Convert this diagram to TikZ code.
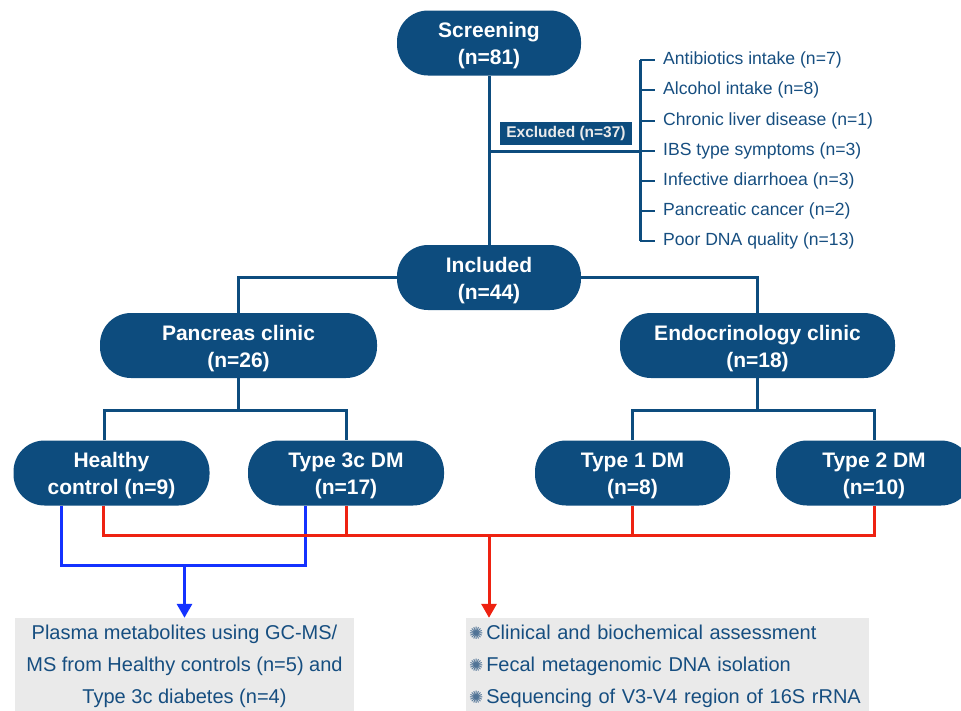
\documentclass[tikz,border=0pt]{standalone}
\usepackage{fontspec}
\setmainfont{Liberation Sans}
\newfontfamily\symfont{DejaVu Sans}
\usetikzlibrary{arrows.meta,calc}
\definecolor{navy}{RGB}{13,76,126}
\definecolor{navytext}{RGB}{22,78,128}
\definecolor{redln}{RGB}{238,34,17}
\definecolor{blueln}{RGB}{20,50,255}
\definecolor{boxgray}{RGB}{234,234,234}
\definecolor{bulcol}{RGB}{80,115,150}
\newcommand{\bul}{{\symfont\fontsize{17}{17}\selectfont\color{bulcol}✺}\hspace{3pt}}
\newcommand{\twol}[2]{\raisebox{-3pt}[\height][\depth]{\begin{tabular}{@{}c@{}}#1\\#2\end{tabular}}}
\begin{document}
\begin{tikzpicture}[x=1pt,y=-1pt,
  pill/.style={rectangle, rounded corners=31pt, fill=navy, text=white,
    font=\bfseries\fontsize{21}{27}\selectfont, align=center,
    minimum height=65pt, inner sep=0pt},
  navyline/.style={draw=navy, line width=3pt},
  redline/.style={draw=redln, line width=3pt},
  blueline/.style={draw=blueln, line width=3pt},
  listitem/.style={anchor=west, text=navytext, font=\fontsize{17.6}{17.6}\selectfont, inner sep=0pt},
  graybox/.style={fill=boxgray, text=navytext, font=\fontsize{20}{32}\selectfont, inner sep=0pt}
]
\useasboundingbox (0,0) rectangle (961,710);

% main nodes
\node[pill, minimum width=184pt] (scr) at (489,43) {\twol{Screening}{(n=81)}};
\node[pill, minimum width=184pt] (inc) at (489,277.5) {\twol{Included}{(n=44)}};
\node[pill, minimum width=277pt] (pan) at (238.5,345.5) {\twol{Pancreas clinic}{(n=26)}};
\node[pill, minimum width=275pt] (endo) at (757.5,345.5) {\twol{Endocrinology clinic}{(n=18)}};
\node[pill, minimum width=196pt] (hc) at (111.5,473) {\twol{Healthy}{control (n=9)}};
\node[pill, minimum width=196pt] (t3) at (346,473) {\twol{Type 3c DM}{(n=17)}};
\node[pill, minimum width=195pt] (t1) at (632.5,473) {\twol{Type 1 DM}{(n=8)}};
\node[pill, minimum width=196pt] (t2) at (874,473) {\twol{Type 2 DM}{(n=10)}};

% Excluded
\node[fill=navy, text=boxgray, font=\bfseries\fontsize{15.5}{15.5}\selectfont,
      minimum width=132pt, minimum height=23pt, inner sep=0pt] (exc) at (566,133.5) {Excluded (n=37)};

% exclusion list
\node[listitem] (e1) at (663,60) {Antibiotics intake (n=7)};
\node[listitem] (e2) at (663,90) {Alcohol intake (n=8)};
\node[listitem] (e3) at (663,120.5) {Chronic liver disease (n=1)};
\node[listitem] (e4) at (663,151) {IBS type symptoms (n=3)};
\node[listitem] (e5) at (663,181) {Infective diarrhoea (n=3)};
\node[listitem] (e6) at (663,210.5) {Pancreatic cancer (n=2)};
\node[listitem] (e7) at (663,241) {Poor DNA quality (n=13)};

\coordinate (exj) at (489,151);
\coordinate (brk) at (640,151);

% bottom boxes (extend below the page edge)
\node[graybox, minimum width=339pt, minimum height=96pt, align=center] (pbox) at (184.5,666)
  {Plasma metabolites using GC-MS/\\MS from Healthy controls (n=5) and\\Type 3c diabetes (n=4)};
\node[graybox, minimum width=403pt, minimum height=96pt, text width=397pt, align=left] (rbox) at (667.5,666)
  {\bul Clinical and biochemical assessment\\\bul Fecal metagenomic DNA isolation\\\bul Sequencing of V3-V4 region of 16S rRNA};

% navy connectors
\draw[navyline] (scr.south) -- (inc.north);
\draw[navyline] (exj) -- (brk);
\draw[navyline] (e1.west -| brk) -- (e7.west -| brk);
\foreach \e in {e1,e2,e3,e4,e5,e6,e7}
  \draw[navyline, line width=2pt, shorten >=8pt] (\e.west -| brk) -- (\e.west);
\draw[navyline] (inc.west) -| (pan.north);
\draw[navyline] (inc.east) -| (endo.north);
\draw[navyline] (pan.south) -- ++(0,33);
\draw[navyline] ([xshift=-7.5pt]hc.north) -- ++(0,-29.5) -| (t3.north);
\draw[navyline] (endo.south) -- ++(0,33);
\draw[navyline] (t1.north) -- ++(0,-29.5) -| (t2.north);

% blue connectors
\draw[blueline] ([xshift=-50pt]hc.south) -- ++(0,59.5) -| ([xshift=-41pt]t3.south);
\coordinate (bj) at (184.5,565);
\draw[blueline, -{Triangle[width=15pt,length=14pt]}] (bj) -- (bj |- pbox.north);

% red connectors
\draw[redline] ([xshift=-8pt]hc.south) -- ++(0,29.5) -| (t2.south);
\draw[redline] (t3.south) -- ++(0,29.5);
\draw[redline] (t1.south) -- ++(0,29.5);
\coordinate (rj) at (489,535);
\draw[redline, -{Triangle[width=15pt,length=14pt]}] (rj) -- (rj |- rbox.north);
\end{tikzpicture}
\end{document}
